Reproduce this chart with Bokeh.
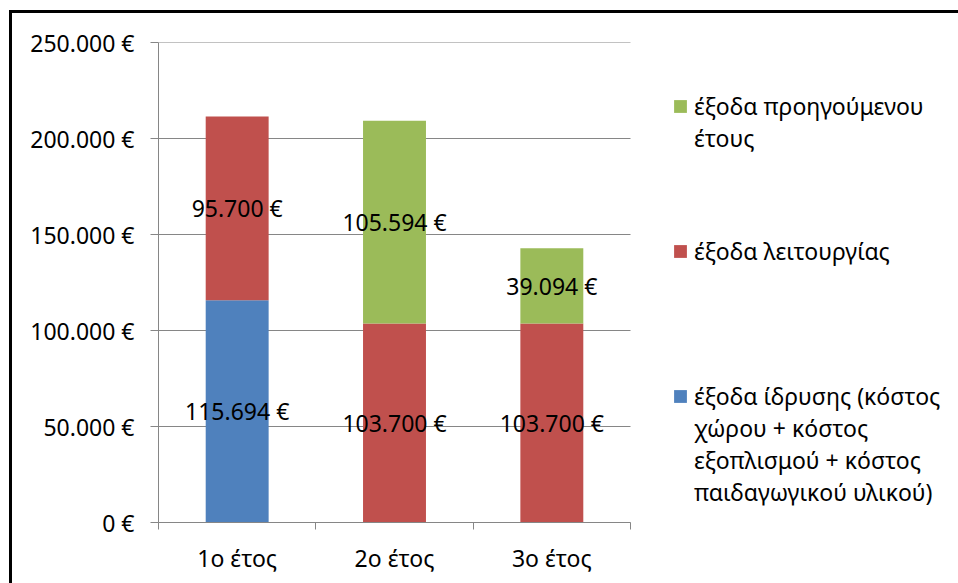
from bokeh.plotting import figure
from bokeh.models import (ColumnDataSource, Legend, LegendItem, LabelSet,
                          FixedTicker, Range1d)
from bokeh.core.properties import value
from bokeh.embed import file_html
from bokeh.resources import INLINE

# ---- data ----
years = ["1ο έτος", "2ο έτος", "3ο έτος"]
idrysi = [115694, 0, 0]               # blue
leitourgia = [95700, 103700, 103700]  # red
proigoumeno = [0, 105594, 39094]      # green
series_lines = [
    ["έξοδα ίδρυσης (κόστος", "χώρου + κόστος", "εξοπλισμού + κόστος", "παιδαγωγικού υλικού)"],
    ["έξοδα λειτουργίας"],
    ["έξοδα προηγούμενου", "έτους"],
]
colors = ["#4F81BD", "#C0504D", "#9BBB59"]
y_ticks = [0, 50000, 100000, 150000, 200000, 250000]
y_tick_labels = ["0 €", "50.000 €", "100.000 €", "150.000 €", "200.000 €", "250.000 €"]

FONT = "Noto Sans"
FS = "23px"
LFS = "23px"

# layout constants (pixels)
FRAME_W = 800       # frame spans bars area + legend area
BAR_AREA_W = 472    # width of the category area


def euro(v):
    return f"{v:,}".replace(",", ".") + " €"


n = len(years)
xs = [i + 0.5 for i in range(n)]
keys = ["s0", "s1", "s2"]
src = ColumnDataSource(dict(x=xs, s0=idrysi, s1=leitourgia, s2=proigoumeno))

p = figure(width=958, height=583, output_backend="svg", toolbar_location=None,
           x_range=Range1d(0, n * FRAME_W / BAR_AREA_W), y_range=Range1d(0, 250000),
           min_border_left=158, min_border_right=0, min_border_top=42,
           min_border_bottom=61)
p.outline_line_color = None
p.background_fill_color = "white"
p.border_fill_alpha = 0
# thin black frame along the top and left of the picture
p.styles = {"box-shadow": "inset 9px 10px 0px 0px #ffffff, inset 12px 13px 0px 0px #000000",
            "background-color": "#ffffff"}

# horizontal gridlines limited to the category area
p.segment(x0=[0] * len(y_ticks), x1=[n] * len(y_ticks), y0=y_ticks, y1=y_ticks,
          line_color="#868686", line_width=1)

renderers = p.vbar_stack(keys, x="x", width=0.4, color=colors, source=src,
                         line_color=None)

# data labels at segment centres
lx, ly, lt = [], [], []
for i in range(n):
    base = 0
    for vals in (idrysi, leitourgia, proigoumeno):
        v = vals[i]
        if v > 0:
            lx.append(xs[i])
            ly.append(base + v / 2)
            lt.append(euro(v))
        base += v
lsrc = ColumnDataSource(dict(x=lx, y=ly, t=lt))
p.add_layout(LabelSet(x="x", y="y", text="t", source=lsrc,
                      text_align="center", text_baseline="middle",
                      text_font=value(FONT), text_font_size=value(FS),
                      text_color="#000000"))

# y axis
p.yaxis.ticker = FixedTicker(ticks=y_ticks)
p.yaxis.major_label_overrides = {t: l for t, l in zip(y_ticks, y_tick_labels)}
p.yaxis.major_label_text_font = FONT
p.yaxis.major_label_text_font_size = FS
p.yaxis.major_label_text_color = "#000000"
p.yaxis.axis_line_color = "#868686"
p.yaxis.major_tick_line_color = "#868686"
p.yaxis.major_tick_out = 8
p.yaxis.major_tick_in = 0
p.yaxis.minor_tick_line_color = None
p.yaxis.major_label_standoff = 16

# x axis: labels at centres, ticks at category boundaries
p.xaxis.bounds = (0, n)
p.xaxis.ticker = FixedTicker(ticks=xs, minor_ticks=list(range(n + 1)))
p.xaxis.major_label_overrides = {x: y for x, y in zip(xs, years)}
p.xaxis.major_label_text_font = FONT
p.xaxis.major_label_text_font_size = FS
p.xaxis.major_label_text_color = "#000000"
p.xaxis.axis_line_color = "#868686"
p.xaxis.major_tick_line_color = None
p.xaxis.minor_tick_line_color = "#868686"
p.xaxis.minor_tick_out = 7
p.xaxis.minor_tick_in = 0
p.xaxis.major_label_standoff = 12

p.xgrid.grid_line_color = None
p.ygrid.grid_line_color = None

# legends (green, red, blue from top); one row per text line
legend_pos = {2: (514, 368), 1: (514, 255), 0: (514, 14)}
for idx in (2, 1, 0):
    lines = series_lines[idx]
    items = [LegendItem(label=lines[0], renderers=[renderers[idx]])]
    items += [LegendItem(label=t, renderers=[]) for t in lines[1:]]
    lg = Legend(items=items, location=legend_pos[idx], padding=0, margin=0,
                spacing=0, border_line_color=None, background_fill_alpha=0,
                glyph_width=16, glyph_height=16, label_standoff=6,
                label_text_font=FONT, label_text_font_size=LFS,
                label_text_color="#000000")
    p.add_layout(lg, "center")

open("out.html", "w").write(file_html(p, INLINE))
